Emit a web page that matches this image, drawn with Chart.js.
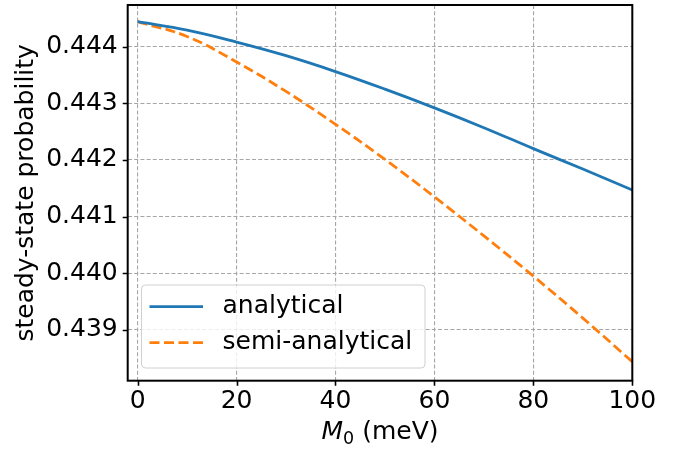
<!DOCTYPE html>
<html>
<head>
<meta charset="utf-8">
<script src="https://cdn.jsdelivr.net/npm/chart.js@4/dist/chart.umd.min.js"></script>
<style>
  html, body { margin: 0; padding: 0; background: #fff; }
  canvas { display: block; }
</style>
</head>
<body>
<canvas id="chart" width="679" height="451"></canvas>
<script>
// values
const m0Values = [0, 10, 20, 30, 40, 50, 60, 70, 80, 90, 100];
const analytical = [0.44444, 0.44429, 0.44408, 0.44384, 0.44356, 0.44325, 0.44292, 0.44257, 0.44220, 0.44184, 0.44147];
const semiAnalytical = [0.44444, 0.44418, 0.44373, 0.44321, 0.44263, 0.44201, 0.44135, 0.44066, 0.43995, 0.43921, 0.43844];
const xTicks = [0, 20, 40, 60, 80, 100];
const yTicks = [0.439, 0.440, 0.441, 0.442, 0.443, 0.444];

const FONT = 'DejaVu Sans';
const FS = 25;
const gridColor = '#a6a6a6';

// frame, tick marks, axis label and legend like matplotlib
const decorPlugin = {
    id: 'decor',
    afterDraw(chart) {
        const ctx = chart.ctx;
        const a = chart.chartArea;
        const xs = chart.scales.x, ys = chart.scales.y;
        ctx.save();

        // ticks
        ctx.strokeStyle = '#000';
        ctx.lineWidth = 1.6;
        ctx.beginPath();
        xTicks.forEach(v => {
            const px = Math.round(xs.getPixelForValue(v)) + 0.5;
            ctx.moveTo(px, a.bottom);
            ctx.lineTo(px, a.bottom + 5);
        });
        yTicks.forEach(v => {
            const py = Math.round(ys.getPixelForValue(v)) + 0.5;
            ctx.moveTo(a.left, py);
            ctx.lineTo(a.left - 5, py);
        });
        ctx.stroke();

        // frame
        ctx.lineWidth = 2;
        ctx.strokeRect(a.left, a.top, a.right - a.left, a.bottom - a.top);

        // x axis label: M_0 (meV)
        ctx.fillStyle = '#000';
        ctx.textBaseline = 'alphabetic';
        const big = FS + 'px "' + FONT + '"';
        const itl = 'italic ' + FS + 'px "' + FONT + '"';
        const small = '17.5px "' + FONT + '"';
        ctx.font = itl;
        const wM = ctx.measureText('M').width;
        ctx.font = small;
        const w0 = ctx.measureText('0').width;
        ctx.font = big;
        const wRest = ctx.measureText(' (meV)').width;
        const total = wM + w0 + wRest;
        let tx = (a.left + a.right) / 2 - total / 2;
        const base = 439;
        ctx.textAlign = 'left';
        ctx.font = itl;
        ctx.fillText('M', tx, base);
        tx += wM;
        ctx.font = small;
        ctx.fillText('0', tx, base + 5);
        tx += w0;
        ctx.font = big;
        ctx.fillText(' (meV)', tx, base);

        // legend
        const lx = 141.5, ly = 285, lw = 283.5, lh = 83;
        ctx.beginPath();
        ctx.roundRect(lx, ly, lw, lh, 4);
        ctx.fillStyle = 'rgba(255,255,255,0.8)';
        ctx.fill();
        ctx.strokeStyle = '#d0d0d0';
        ctx.lineWidth = 1;
        ctx.stroke();

        const rows = [306.7, 342.7];
        chart.data.datasets.forEach((ds, i) => {
            const y = rows[i];
            ctx.beginPath();
            ctx.strokeStyle = ds.borderColor;
            ctx.lineWidth = ds.borderWidth;
            ctx.setLineDash(ds.borderDash || []);
            ctx.moveTo(149.5, y);
            ctx.lineTo(203, y);
            ctx.stroke();
            ctx.setLineDash([]);
            ctx.fillStyle = '#000';
            ctx.font = big;
            ctx.textBaseline = 'middle';
            ctx.fillText(ds.label, 222.5, y);
        });

        ctx.restore();
    }
};

const toPoints = vals => m0Values.map((x, i) => ({ x: x, y: vals[i] }));

new Chart(document.getElementById('chart'), {
    type: 'line',
    data: {
        datasets: [
            {
                label: 'analytical',
                data: toPoints(analytical),
                borderColor: '#1f77b4',
                borderWidth: 2.8,
                pointRadius: 0,
                tension: 0.4,
                fill: false
            },
            {
                label: 'semi-analytical',
                data: toPoints(semiAnalytical),
                borderColor: '#ff7f0e',
                borderWidth: 2.8,
                borderDash: [10, 4.5],
                pointRadius: 0,
                tension: 0.4,
                fill: false
            }
        ]
    },
    options: {
        responsive: false,
        animation: false,
        devicePixelRatio: 1,
        layout: { padding: { left: 0, right: 46.7, top: 5, bottom: 0 } },
        plugins: {
            legend: { display: false },
            tooltip: { enabled: false }
        },
        scales: {
            x: {
                type: 'linear',
                min: -2,
                max: 100,
                afterBuildTicks: s => { s.ticks = xTicks.map(v => ({ value: v })); },
                afterFit: s => {
                    s.height = 70.3;
                    s.paddingLeft = 0;
                    s.paddingRight = 0;
                },
                grid: {
                    color: gridColor,
                    lineWidth: 1.1,
                    drawTicks: false
                },
                border: { display: false, dash: [4, 2.2] },
                ticks: {
                    color: '#000',
                    font: { family: FONT, size: FS },
                    padding: 6,
                    maxRotation: 0,
                    callback: v => String(v)
                }
            },
            y: {
                type: 'linear',
                min: 0.438105,
                max: 0.444735,
                afterBuildTicks: s => { s.ticks = yTicks.map(v => ({ value: v })); },
                afterFit: s => {
                    s.width = 127.7;
                    s.paddingTop = 0;
                    s.paddingBottom = 0;
                },
                grid: {
                    color: gridColor,
                    lineWidth: 1.1,
                    drawTicks: false
                },
                border: { display: false, dash: [4, 2.2] },
                ticks: {
                    color: '#000',
                    font: { family: FONT, size: FS },
                    padding: 10,
                    callback: v => v.toFixed(3)
                },
                title: {
                    display: true,
                    text: 'steady-state probability',
                    color: '#000',
                    font: { family: FONT, size: FS },
                    padding: { top: 11, bottom: 0 }
                }
            }
        }
    },
    plugins: [decorPlugin]
});
</script>
</body>
</html>
